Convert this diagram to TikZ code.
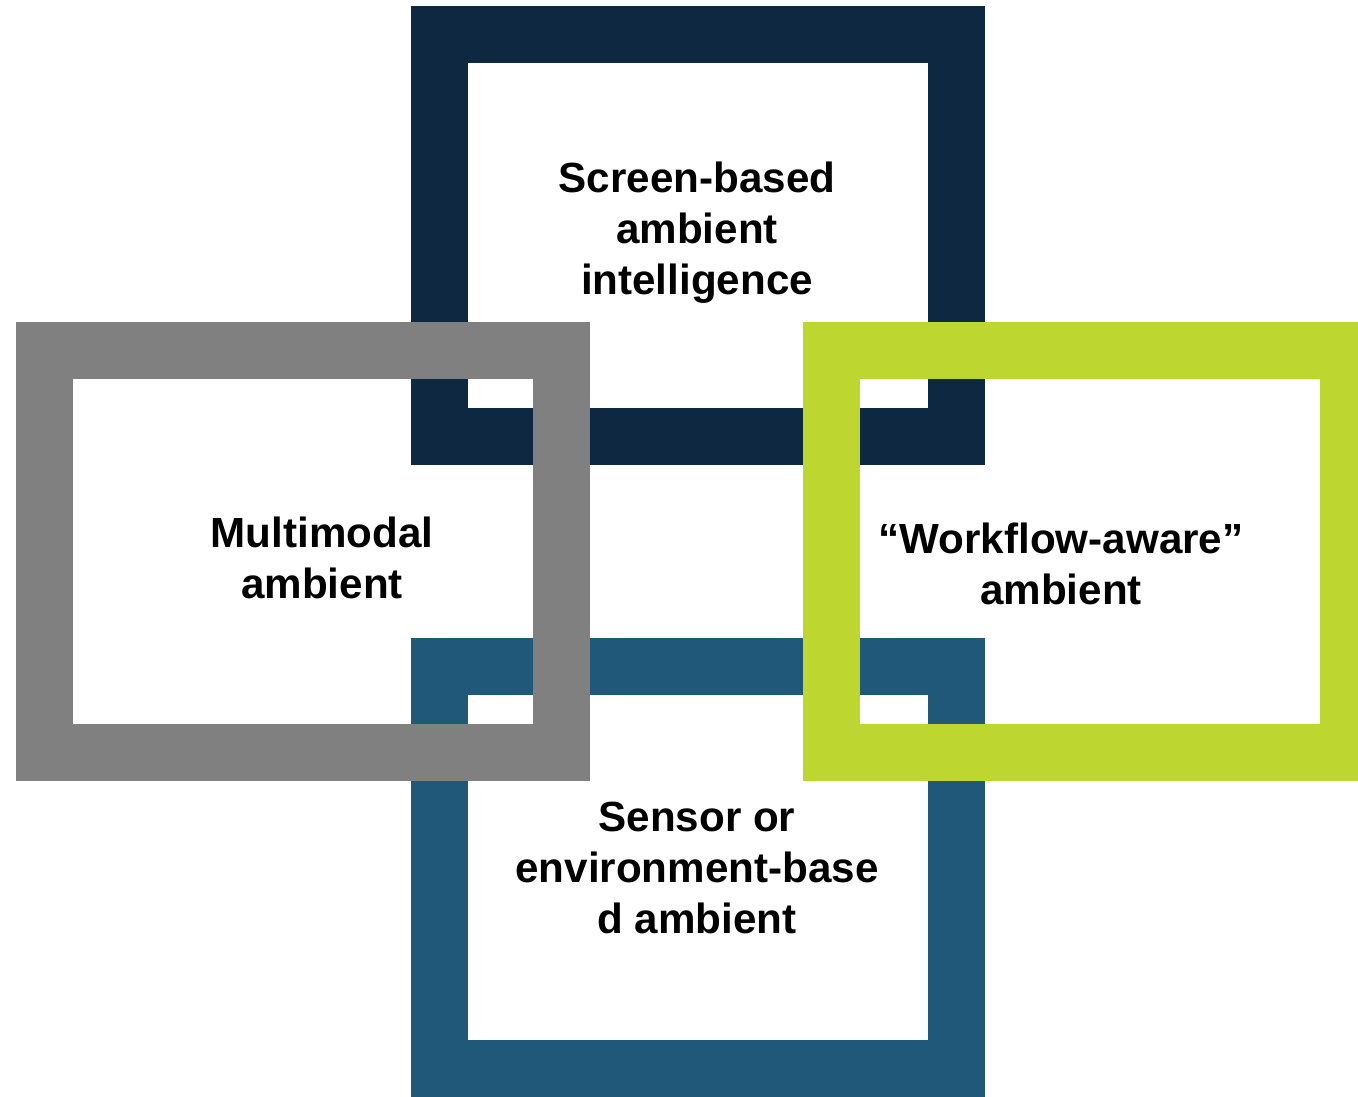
\documentclass[tikz,border=0pt]{standalone}
\usepackage{fontspec}
\setmainfont{Liberation Sans}
\usepackage{tikz}
\usetikzlibrary{positioning}

\definecolor{navyframe}{RGB}{15,40,65}
\definecolor{blueframe}{RGB}{32,88,122}
\definecolor{grayframe}{RGB}{128,128,128}
\definecolor{limeframe}{RGB}{190,215,48}

\begin{document}
\begin{tikzpicture}
      [x=0.02cm,y=-0.02cm,
       frame/.style={rectangle,line width=1.14cm,minimum width=10.34cm,minimum height=8.04cm,inner sep=0pt,outer sep=0pt},
       label/.style={align=center,font=\bfseries\fontsize{24}{29}\selectfont,inner sep=0pt}]
      \path[use as bounding box,clip] (0,0) rectangle (1358,1096);
      % place frames
      \node[frame,draw=navyframe] (screen) at (698,235.5) {};
      \node[frame,draw=blueframe] (sensor) at (698,867.5) {};
      \node[frame,draw=grayframe] (multi) at (303,551.5) {};
      \node[frame,draw=limeframe] (workflow) at (1090,551.5) {};
      % add labels
      \node[label] (screentext) at (697,233) {Screen-based\\ambient\\intelligence};
      \node[label] (multitext) at (322,558) {Multimodal\\ambient};
      \node[label] (workflowtext) at (1061,564) {“Workflow-aware”\\ambient};
      \node[label] (sensortext) at (697,868) {Sensor or\\environment-base\\d ambient};
    \end{tikzpicture}
\end{document}
